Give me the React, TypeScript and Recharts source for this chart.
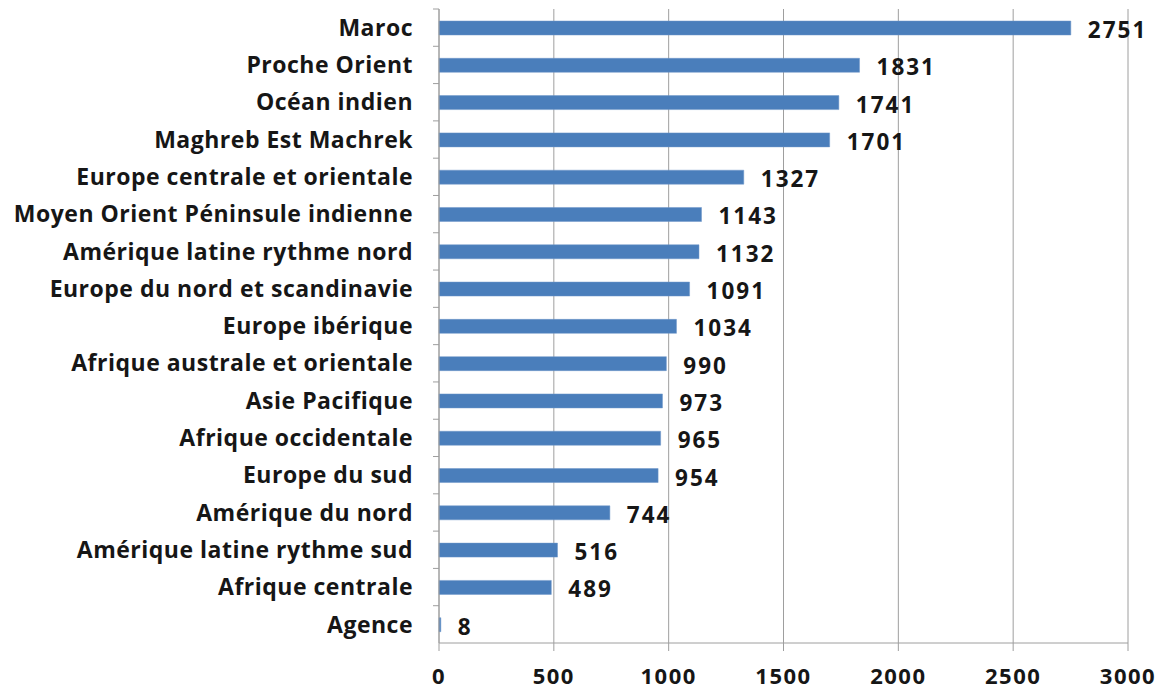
import { BarChart, Bar, XAxis, YAxis, CartesianGrid, LabelList } from 'recharts';

const regions = [
    'Maroc',
    'Proche Orient',
    'Océan indien',
    'Maghreb Est Machrek',
    'Europe centrale et orientale',
    'Moyen Orient Péninsule indienne',
    'Amérique latine rythme nord',
    'Europe du nord et scandinavie',
    'Europe ibérique',
    'Afrique australe et orientale',
    'Asie Pacifique',
    'Afrique occidentale',
    'Europe du sud',
    'Amérique du nord',
    'Amérique latine rythme sud',
    'Afrique centrale',
    'Agence',
];
const counts = [2751, 1831, 1741, 1701, 1327, 1143, 1132, 1091, 1034, 990, 973, 965, 954, 744, 516, 489, 8];
const xTicks = [0, 500, 1000, 1500, 2000, 2500, 3000];

const data = regions.map((name, i) => ({ name, value: counts[i] }));

const W = 1167;
const H = 694;
const TOP = 9;
const AXIS_W = 439;
const XAXIS_H = 51;
const BAND = (H - TOP - XAXIS_H) / regions.length;
const LABEL_GAP = 26;
const FONT = '"Open Sans", sans-serif';
const GRID = '#9e9e9e';
const INK = '#161616';

function CategoryTick(props: any) {
    const { x, y, payload } = props;
    return (
        <g>
            <line x1={x + LABEL_GAP - 6} x2={x + LABEL_GAP} y1={y - BAND / 2} y2={y - BAND / 2} stroke={GRID} />
            <text x={x} y={y + 2} textAnchor="end" dominantBaseline="middle" fontFamily={FONT} fontWeight={700} fontSize={23} letterSpacing={0.5} fill={INK}>
                {payload.value}
            </text>
        </g>
    );
}

function ValueLabel(props: any) {
    const { x, y, width, height, value } = props;
    return (
        <text x={x + width + 17} y={y + height / 2 + 4} dominantBaseline="middle" fontFamily={FONT} fontWeight={700} fontSize={22.5} letterSpacing={2} fill={INK}>
            {value}
        </text>
    );
}

export default function App() {
    return (
        <div style={{ position: 'absolute', left: 0, top: 0, width: W, height: H, background: '#fff' }}>
            <BarChart width={W} height={H} data={data} layout="vertical" margin={{ top: TOP, right: 39, left: 0, bottom: 0 }}>
                <CartesianGrid horizontal={false} stroke={GRID} />
                <XAxis
                    type="number"
                    domain={[0, 3000]}
                    ticks={xTicks}
                    height={XAXIS_H}
                    stroke={GRID}
                    tickSize={8}
                    tickMargin={17}
                    tick={{ fill: INK, fontSize: 22, fontWeight: 700, fontFamily: FONT, letterSpacing: 1.5 }}
                />
                <YAxis
                    type="category"
                    dataKey="name"
                    width={AXIS_W}
                    stroke={GRID}
                    tickLine={false}
                    tickSize={0}
                    tickMargin={LABEL_GAP}
                    interval={0}
                    tick={<CategoryTick />}
                />
                <Bar dataKey="value" fill="#4a7ebb" stroke="#6f97c8" strokeWidth={0.5} barSize={14} isAnimationActive={false}>
                    <LabelList dataKey="value" content={<ValueLabel />} />
                </Bar>
            </BarChart>
        </div>
    );
}
